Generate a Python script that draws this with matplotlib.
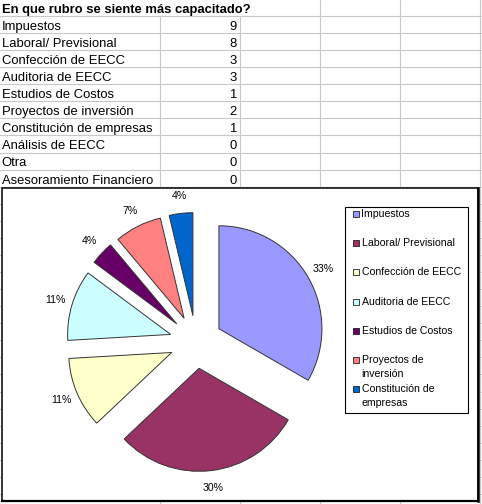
import matplotlib.pyplot as plt
from matplotlib.patches import Rectangle

plt.rcParams['font.family'] = ['Liberation Sans', 'DejaVu Sans']

title = 'En que rubro se siente más capacitado?'
rubros = ['Impuestos', 'Laboral/ Previsional', 'Confección de EECC', 'Auditoria de EECC',
          'Estudios de Costos', 'Proyectos de inversión', 'Constitución de empresas',
          'Análisis de EECC', 'Otra', 'Asesoramiento Financiero']
cantidad = [9, 8, 3, 3, 1, 2, 1, 0, 0, 0]
leyenda = ['Impuestos', 'Laboral/ Previsional', 'Confección de EECC', 'Auditoria de EECC',
           'Estudios de Costos', 'Proyectos de\ninversión', 'Constitución de\nempresas']
colores = ['#9999ff', '#993366', '#ffffcc', '#ccffff', '#660066', '#ff8080', '#0066cc']

W, H = 482, 504
fig = plt.figure(figsize=(W / 100, H / 100), dpi=100)

# hoja de calculo (coordenadas en pixeles)
bg = fig.add_axes([0, 0, 1, 1])
bg.set_xlim(0, W)
bg.set_ylim(H, 0)
bg.axis('off')

row0, rh = 16, 17.07
grid = '#c8c8c8'
for k in range(30):
    bg.axhline(row0 + rh * k, color=grid, lw=0.8, zorder=1)
for x in [160, 240]:
    bg.plot([x, x], [row0, H], color=grid, lw=0.8, zorder=1)
for x in [320, 400, 480]:
    bg.plot([x, x], [0, H], color=grid, lw=0.8, zorder=1)

bg.text(1.5, 13, title, fontsize=9.4, fontweight='bold', va='baseline', zorder=3)
for i, (r, c) in enumerate(zip(rubros, cantidad)):
    yb = row0 + rh * (i + 1) - 3.2
    bg.text(1.5, yb, r, fontsize=9.4, va='baseline', zorder=3)
    bg.text(236.5, yb, str(c), fontsize=9.4, va='baseline', ha='right', zorder=3)

# area del grafico
bg.add_patch(Rectangle((2, 188), 475.5, 313, facecolor='white', edgecolor='black',
                       lw=1.1, zorder=4))
bg.plot([477.5, 477.5], [188, 501], color='black', lw=1.8, zorder=5)
bg.plot([2, 477.5], [501, 501], color='black', lw=1.6, zorder=5)

# leyenda
bg.add_patch(Rectangle((345, 207), 123, 206, facecolor='white', edgecolor='black',
                       lw=0.8, zorder=5))
for i, (lab, col) in enumerate(zip(leyenda, colores)):
    y = 214 + 29.2 * i
    bg.add_patch(Rectangle((352.5, y - 3), 6, 6, facecolor=col, edgecolor='#202020',
                           lw=0.6, zorder=6))
    for j, linea in enumerate(lab.split('\n')):
        bg.text(361.5, y + 14 * j, linea, fontsize=7.6, va='center', zorder=6)

# torta
valores = [v for v in cantidad if v > 0]
S, R = 160, 103
cx, cy = 196, 342
ax = fig.add_axes([(cx - S) / W, (H - cy - S) / H, 2 * S / W, 2 * S / H])
ax.pie(valores, colors=colores, startangle=90, counterclock=False,
       explode=[0.257] * len(valores), autopct='%.0f%%', pctdistance=1.17,
       wedgeprops=dict(edgecolor='#333333', linewidth=0.7),
       textprops=dict(fontsize=7.6, color='black'))
L = S / R
ax.set_xlim(-L, L)
ax.set_ylim(-L, L)
ax.set_aspect('equal')
ax.set_frame_on(False)

fig.savefig('out.png', dpi=100)
